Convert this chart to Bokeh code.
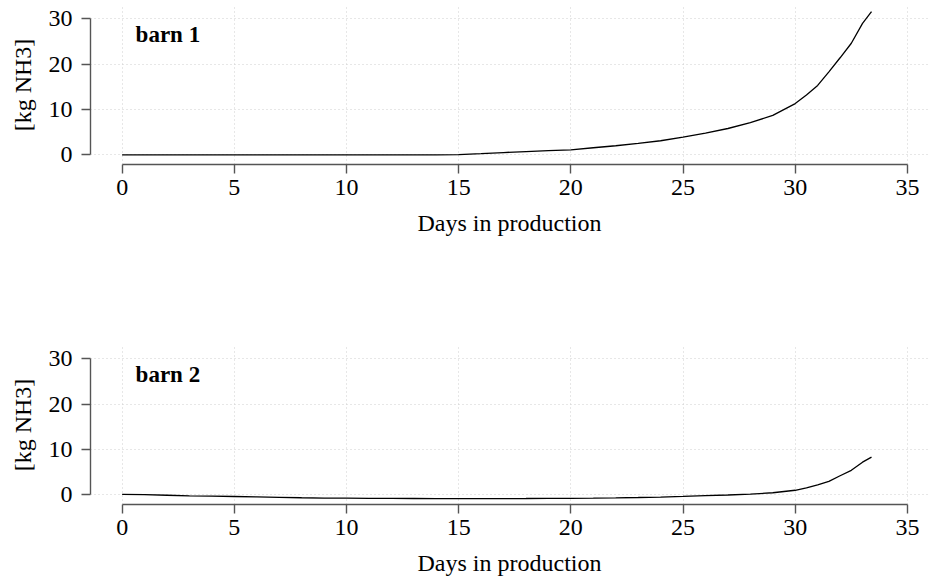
from bokeh.plotting import figure
from bokeh.layouts import column
from bokeh.models import Range1d, SingleIntervalTicker, Label
from bokeh.embed import file_html
from bokeh.resources import INLINE

# ---- data ----
DAYS = [0, 1, 2, 3, 4, 5, 6, 7, 8, 9, 10, 11, 12, 13, 14, 15, 16, 17, 18, 19, 20,
        21, 22, 23, 24, 25, 26, 27, 28, 29, 30, 30.5, 31, 31.5, 32, 32.5, 33, 33.4]
BARN1 = [0, 0, 0, 0, 0, 0, 0, 0, 0, 0, 0, 0, 0, 0, 0,
         0.05, 0.25, 0.5, 0.7, 0.9, 1.1, 1.55, 2.0, 2.5, 3.1, 3.9, 4.8, 5.8, 7.1, 8.7, 11.3,
         13.2, 15.3, 18.3, 21.4, 24.6, 29.0, 31.6]
BARN2 = [0.1, 0.05, -0.1, -0.25, -0.3, -0.37, -0.45, -0.55, -0.65, -0.72, -0.75, -0.78,
         -0.8, -0.82, -0.83, -0.84, -0.84, -0.83, -0.82, -0.8, -0.78, -0.75, -0.68, -0.6,
         -0.5, -0.37, -0.2, -0.05, 0.15, 0.45, 1.0,
         1.55, 2.2, 2.95, 4.2, 5.4, 7.2, 8.3]
PANEL_TITLES = ["barn 1", "barn 2"]
X_LABEL = "Days in production"
Y_LABEL = "[kg NH3]"

FONT = "Liberation Serif"
FS = "24px"


def make_panel(days, vals, title, top_border, bottom_border, height):
    p = figure(width=928, height=height, output_backend="svg", toolbar_location=None,
               x_range=Range1d(-1.41, 35.94), y_range=Range1d(-2.14, 32.93),
               min_border_left=90, min_border_right=0,
               min_border_top=top_border, min_border_bottom=bottom_border)
    p.outline_line_color = None
    p.background_fill_color = "white"
    p.border_fill_color = "white"

    p.xaxis.ticker = SingleIntervalTicker(interval=5)
    p.yaxis.ticker = SingleIntervalTicker(interval=10)
    p.xaxis.bounds = (0, 35)
    p.yaxis.bounds = (0, 30)
    for ax in (p.xaxis, p.yaxis):
        ax.axis_line_color = "#555555"
        ax.axis_line_width = 1.4
        ax.major_tick_line_color = "#555555"
        ax.major_tick_line_width = 1.4
        ax.major_tick_out = 9
        ax.major_tick_in = 0
        ax.minor_tick_line_color = None
        ax.major_label_text_font = FONT
        ax.major_label_text_font_size = FS
        ax.major_label_text_color = "black"
        ax.axis_label_text_font = FONT
        ax.axis_label_text_font_size = FS
        ax.axis_label_text_font_style = "normal"
        ax.axis_label_text_color = "black"
    p.xaxis.axis_label = X_LABEL
    p.yaxis.axis_label = Y_LABEL
    p.xaxis.major_label_standoff = 6
    p.xaxis.axis_label_standoff = 12
    p.yaxis.major_label_standoff = 9
    p.yaxis.major_label_orientation = "horizontal"
    p.yaxis.axis_label_standoff = 10

    for g in (p.xgrid, p.ygrid):
        g.grid_line_color = "#cfcfcf"
        g.grid_line_dash = "1 3"
        g.grid_line_width = 1
    p.xgrid.ticker = SingleIntervalTicker(interval=5)
    p.ygrid.ticker = SingleIntervalTicker(interval=10)

    p.line(days, vals, line_color="black", line_width=1.3)

    p.add_layout(Label(x=0.6, y=26.6, text=title, text_font=FONT,
                       text_font_size="23px", text_font_style="bold",
                       text_color="black", text_baseline="alphabetic"))
    return p


p1 = make_panel(DAYS, BARN1, PANEL_TITLES[0], 5, 126, 290)
p2 = make_panel(DAYS, BARN2, PANEL_TITLES[1], 55, 79, 293)

layout = column(p1, p2, spacing=0)
open("out.html", "w").write(file_html(layout, INLINE))
